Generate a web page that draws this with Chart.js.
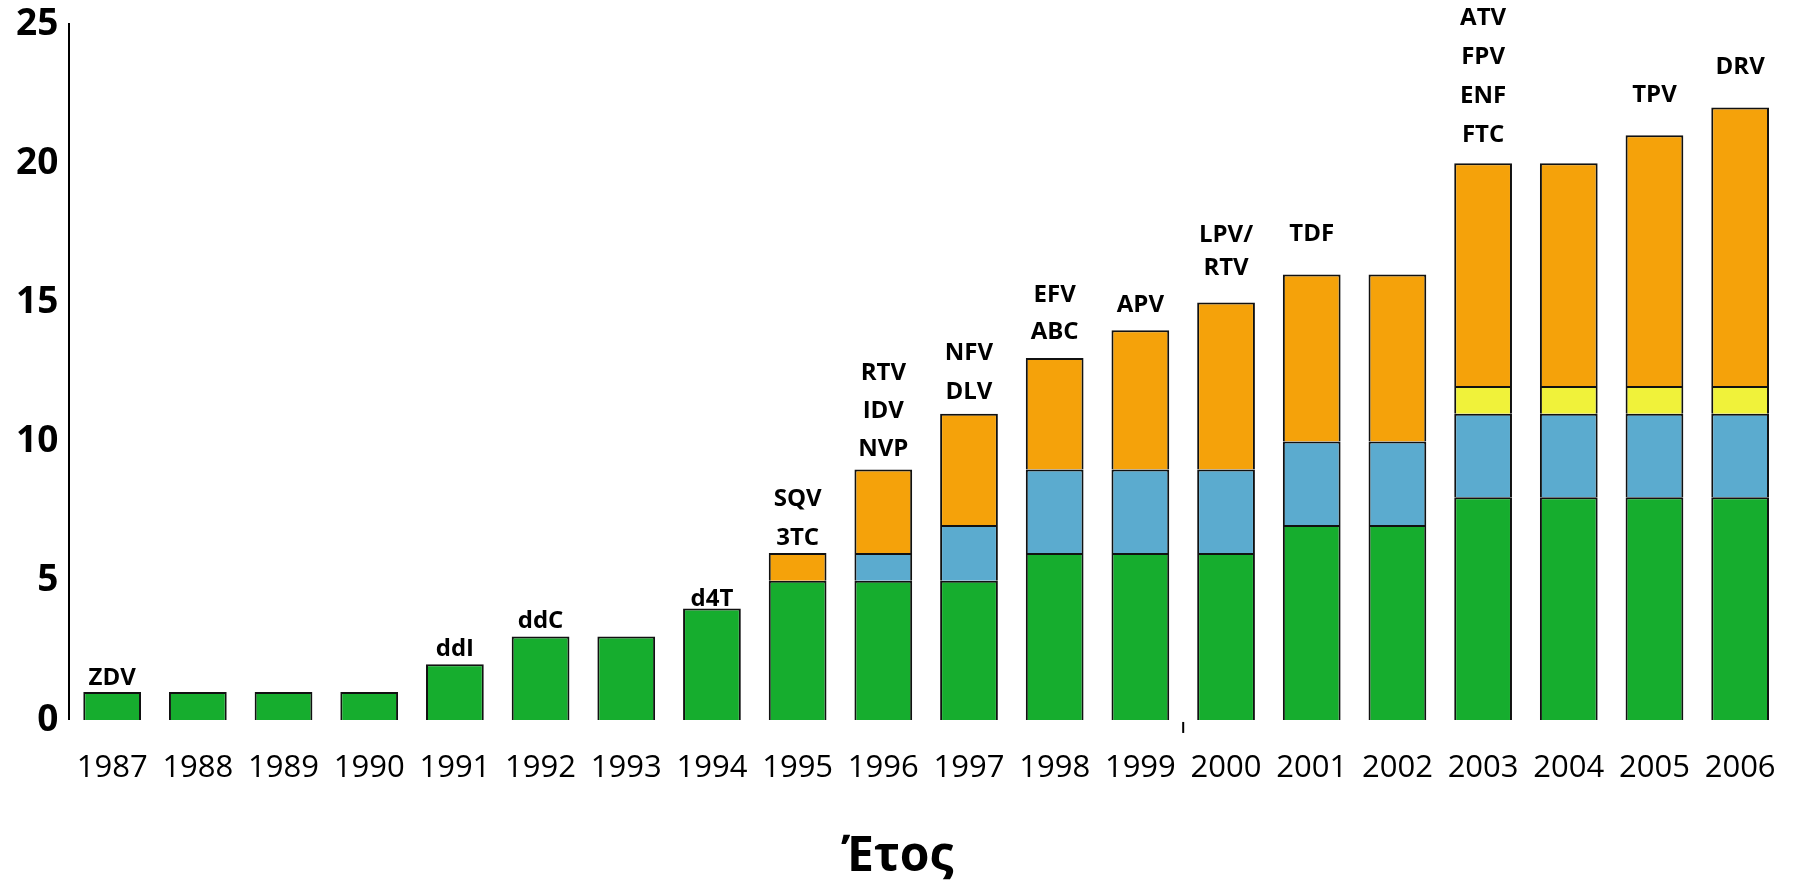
<!DOCTYPE html>
<html>
<head>
<meta charset="utf-8">
<script src="https://cdn.jsdelivr.net/npm/chart.js@4.4.1/dist/chart.umd.min.js"></script>
<style>
    body { margin: 0; background: #fff; }
    #wrap { width: 1806px; height: 883px; position: relative; }
</style>
</head>
<body>
<div id="wrap"><canvas id="arvChart"></canvas></div>
<script>
// Έτη (κατηγορίες)
const years = ['1987', '1988', '1989', '1990', '1991', '1992', '1993', '1994', '1995', '1996',
               '1997', '1998', '1999', '2000', '2001', '2002', '2003', '2004', '2005', '2006'];

// Τιμές ανά σειρά (στοιβαγμένες)
const greenVals  = [1, 1, 1, 1, 2, 3, 3, 4, 5, 5, 5, 6, 6, 6, 7, 7, 8, 8, 8, 8];
const blueVals   = [0, 0, 0, 0, 0, 0, 0, 0, 0, 1, 2, 3, 3, 3, 3, 3, 3, 3, 3, 3];
const yellowVals = [0, 0, 0, 0, 0, 0, 0, 0, 0, 0, 0, 0, 0, 0, 0, 0, 1, 1, 1, 1];
const orangeVals = [0, 0, 0, 0, 0, 0, 0, 0, 1, 3, 4, 4, 5, 6, 6, 6, 8, 8, 9, 10];

// Ετικέτες φαρμάκων πάνω από κάθε στήλη
const drugLabels = [
    ['ZDV'], [], [], [], ['ddI'], ['ddC'], [], ['d4T'], ['SQV', '3TC'], ['RTV', 'IDV', 'NVP'],
    ['NFV', 'DLV'], ['EFV', 'ABC'], ['APV'], ['LPV/', 'RTV'], ['TDF'], [], ['ATV', 'FPV', 'ENF', 'FTC'], [], ['TPV'], ['DRV']
];

const yTicks = [0, 5, 10, 15, 20, 25];

// plugin para desenhar os rótulos acima das barras
const drugLabelPlugin = {
    id: 'drugLabels',
    afterDatasetsDraw(chart, args, opts) {
        const ctx = chart.ctx;
        const xs = chart.scales.x;
        const ys = chart.scales.y;
        ctx.save();
        ctx.font = 'bold 24px "Open Sans"';
        ctx.fillStyle = '#000';
        ctx.textAlign = 'center';
        ctx.textBaseline = 'middle';
        drugLabels.forEach((lines, i) => {
            if (!lines.length) return;
            let total = 0;
            chart.data.datasets.forEach(ds => { total += ds.data[i]; });
            const x = xs.getPixelForValue(i);
            const top = ys.getPixelForValue(total);
            const gap = opts.gaps[i];
            const step = opts.steps[i] || 39;
            for (let k = 0; k < lines.length; k++) {
                const y = top - gap - (lines.length - 1 - k) * step;
                ctx.fillText(lines[k], x, y);
            }
        });
        // pequeno traço abaixo do eixo entre 1999 e 2000
        const mx = (xs.getPixelForValue(12) + xs.getPixelForValue(13)) / 2;
        ctx.strokeStyle = '#000';
        ctx.lineWidth = 2;
        ctx.beginPath();
        ctx.moveTo(mx, chart.chartArea.bottom + 2);
        ctx.lineTo(mx, chart.chartArea.bottom + 13);
        ctx.stroke();
        ctx.restore();
    }
};

document.addEventListener('DOMContentLoaded', () => {
    const ctx = document.getElementById('arvChart').getContext('2d');
    const common = { borderColor: '#111', borderWidth: 2, stack: 'a' };

    new Chart(ctx, {
        type: 'bar',
        data: {
            labels: years,
            datasets: [
                { label: 'g', data: greenVals,  backgroundColor: '#16AD2E', ...common },
                { label: 'b', data: blueVals,   backgroundColor: '#5BABCF', ...common },
                { label: 'y', data: yellowVals, backgroundColor: '#F0F23A', ...common },
                { label: 'o', data: orangeVals, backgroundColor: '#F5A20A', ...common }
            ]
        },
        options: {
            responsive: true,
            maintainAspectRatio: false,
            animation: false,
            layout: { padding: { left: 5, right: 16, top: 24, bottom: 0 } },
            datasets: { bar: { categoryPercentage: 1, barPercentage: 0.674 } },
            scales: {
                x: {
                    stacked: true,
                    grid: { display: false, drawTicks: false },
                    border: { display: false },
                    ticks: {
                        color: '#000',
                        padding: 30,
                        maxRotation: 0,
                        autoSkip: false,
                        font: { family: '"Open Sans"', size: 31 }
                    }
                },
                y: {
                    stacked: true,
                    min: 0,
                    max: 25,
                    afterBuildTicks: axis => { axis.ticks = yTicks.map(v => ({ value: v })); },
                    grid: { display: false, drawTicks: false },
                    border: { display: true, color: '#000', width: 2 },
                    ticks: {
                        color: '#000',
                        padding: 11,
                        font: { family: '"Open Sans"', size: 37, weight: 'bold', lineHeight: 0.6 }
                    }
                }
            },
            plugins: {
                legend: { display: false },
                tooltip: { enabled: false },
                title: {
                    display: true,
                    position: 'bottom',
                    text: 'Έτος',
                    color: '#000',
                    font: { family: '"Open Sans"', size: 48, weight: 'bold', lineHeight: 1.08 },
                    padding: { top: 14, bottom: 0 }
                },
                drugLabels: {
                    gaps:  [14, 0, 0, 0, 15, 15, 0, 9, 15, 20, 22, 26, 25, 34, 40, 0, 28, 0, 40, 40],
                    steps: [0, 0, 0, 0, 0, 0, 0, 0, 39, 38, 39, 37, 0, 33, 0, 0, 39, 0, 0, 0]
                }
            }
        },
        plugins: [drugLabelPlugin]
    });
});
</script>
</body>
</html>
